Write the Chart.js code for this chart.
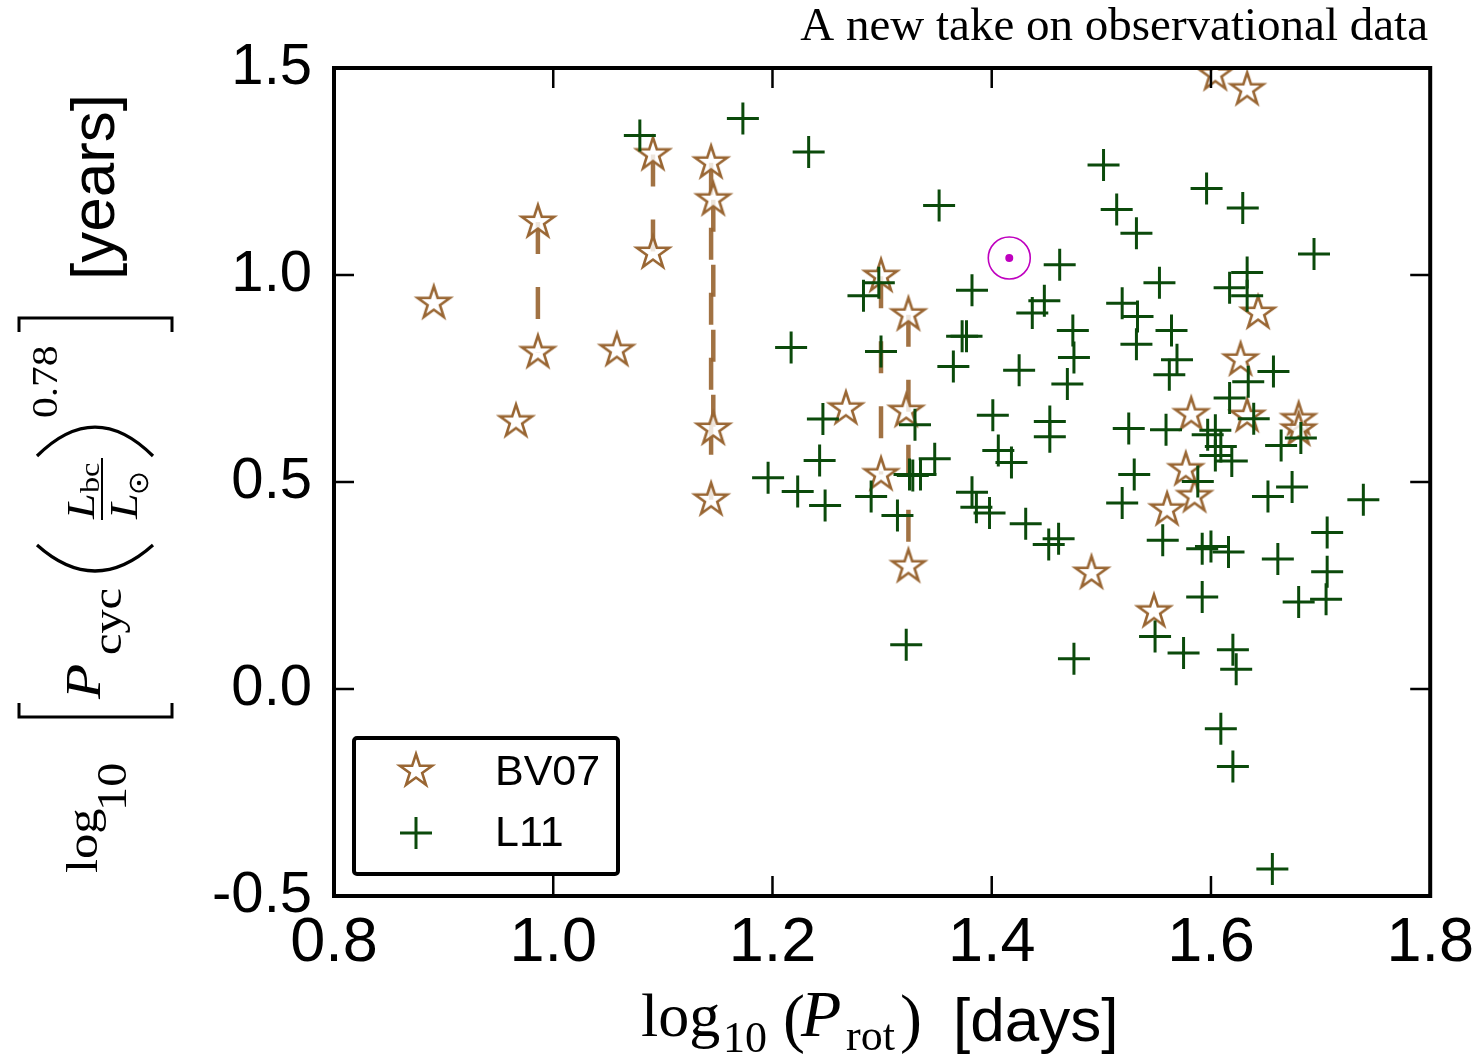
<!DOCTYPE html>
<html>
<head>
<meta charset="utf-8">
<script src="https://cdn.jsdelivr.net/npm/chart.js@4/dist/chart.umd.min.js"></script>
<style>
  html, body { margin: 0; padding: 0; background: #fff; }
  #wrap { width: 1484px; height: 1058px; }
</style>
</head>
<body>
<div id="wrap"><canvas id="c" width="1484" height="1058"></canvas></div>
<script>
// ---- data: log10(P_rot) vs log10[P_cyc (L_bc/L_sun)^0.78] ----
const bv07X = [0.891, 0.986, 0.986, 1.058, 0.966, 1.091, 1.091, 1.144, 1.146, 1.146, 1.144,
               1.299, 1.324, 1.267, 1.322, 1.299, 1.324,
               1.604, 1.633, 1.643, 1.627, 1.582, 1.633, 1.680, 1.680, 1.577, 1.585, 1.560, 1.491, 1.548];
const bv07Y = [0.932, 1.128, 0.813, 0.818, 0.646, 1.291, 1.053, 1.271, 1.182, 0.628, 0.457,
               0.997, 0.904, 0.677, 0.671, 0.518, 0.296,
               1.484, 1.448, 0.908, 0.795, 0.663, 0.659, 0.651, 0.626, 0.530, 0.465, 0.433, 0.280, 0.187];
// stars with more than one cycle: pairs of indices joined by a dashed line (upper first)
const bv07Links = [[1, 2], [5, 6], [7, 10], [8, 9], [11, 15], [12, 16]];

const l11X = [1.079, 1.173, 1.233, 1.352, 1.462, 1.382, 1.448, 1.437, 1.474, 1.283, 1.297, 1.373,
              1.377, 1.217, 1.299, 1.365, 1.425, 1.469, 1.475, 1.246, 1.330, 1.401, 1.453, 1.453,
              1.243, 1.348, 1.406, 1.418, 1.196, 1.223, 1.325, 1.328, 1.335, 1.248, 1.290, 1.382,
              1.386, 1.398, 1.314, 1.431, 1.461, 1.452, 1.322, 1.475, 1.502, 1.514, 1.532, 1.596,
              1.629, 1.694, 1.553, 1.633, 1.617, 1.633, 1.519, 1.533, 1.532, 1.564, 1.569, 1.562,
              1.657, 1.634, 1.617, 1.639, 1.525, 1.559, 1.604, 1.597, 1.609, 1.604, 1.619, 1.664,
              1.682, 1.530, 1.588, 1.519, 1.652, 1.674, 1.739, 1.556, 1.592, 1.600, 1.616, 1.661,
              1.706, 1.706, 1.680, 1.705, 1.592, 1.549, 1.575, 1.620, 1.623, 1.609, 1.620, 1.656];
const l11Y = [1.337, 1.378, 1.297, 1.168, 1.025, 0.963, 0.938, 0.908, 0.866, 0.950, 0.981, 0.852,
              0.852, 0.825, 0.815, 0.779, 0.770, 0.737, 0.801, 0.652, 0.638, 0.661, 0.646, 0.609,
              0.552, 0.556, 0.576, 0.547, 0.510, 0.477, 0.518, 0.516, 0.518, 0.443, 0.465, 0.475,
              0.439, 0.425, 0.419, 0.399, 0.363, 0.349, 0.107, 0.073, 1.266, 1.158, 1.101, 1.209,
              1.162, 1.051, 0.981, 1.006, 0.969, 0.950, 0.932, 0.900, 0.833, 0.866, 0.795, 0.759,
              0.767, 0.742, 0.703, 0.653, 0.629, 0.626, 0.625, 0.614, 0.586, 0.564, 0.551, 0.588,
              0.606, 0.518, 0.501, 0.449, 0.465, 0.488, 0.457, 0.359, 0.339, 0.344, 0.331, 0.314,
              0.378, 0.283, 0.210, 0.217, 0.222, 0.127, 0.087, 0.095, 0.048, -0.096, -0.187, -0.435];

const sunX = [1.416];
const sunY = [1.041];

const xTickValues = [0.8, 1.0, 1.2, 1.4, 1.6, 1.8];
const yTickValues = [-0.5, 0.0, 0.5, 1.0, 1.5];

const legendLabels = ['BV07', 'L11'];
const titleText = 'A new take on observational data';

// ---- styles ----
const STAR_EDGE = '#996633';
const STAR_FILL = 'rgba(255,255,255,0.82)';
const LINK_COLOR = 'rgba(153,102,51,0.92)';
const CROSS_COLOR = '#0b4a0b';
const SUN_COLOR = '#bf00bf';
const SANS = '"Liberation Sans", Arial, sans-serif';
const SERIF = '"Liberation Serif", "Times New Roman", serif';

// five-pointed open star used as a point style
function makeStar(r, lw) {
  const size = Math.ceil(2 * r + 2 * lw + 4);
  const cv = document.createElement('canvas');
  cv.width = size; cv.height = size;
  const g = cv.getContext('2d');
  const cx = size / 2, cy = size / 2;
  g.beginPath();
  for (let i = 0; i < 10; i++) {
    const a = -Math.PI / 2 + i * Math.PI / 5;
    const rad = (i % 2) ? r * 0.382 : r;
    const px = cx + rad * Math.cos(a), py = cy + rad * Math.sin(a);
    if (i === 0) g.moveTo(px, py); else g.lineTo(px, py);
  }
  g.closePath();
  g.fillStyle = STAR_FILL;
  g.fill();
  g.lineWidth = lw;
  g.lineJoin = 'miter';
  g.strokeStyle = STAR_EDGE;
  g.stroke();
  return cv;
}
const starImg = makeStar(17, 2.6);

const pts = (xs, ys) => xs.map((x, i) => ({ x: x, y: ys[i] }));

const linkSets = bv07Links.map(([a, b]) => ({
  label: 'link',
  data: [{ x: bv07X[a], y: bv07Y[a] }, { x: bv07X[b], y: bv07Y[b] }],
  showLine: true,
  borderColor: LINK_COLOR,
  borderWidth: 4.5,
  borderDash: [32, 33],
  pointRadius: 0,
  order: 3
}));

const datasets = [
  ...linkSets,
  {
    label: legendLabels[0],
    data: pts(bv07X, bv07Y),
    pointStyle: starImg,
    pointRadius: 17,
    clip: 0,
    order: 2
  },
  {
    label: legendLabels[1],
    data: pts(l11X, l11Y),
    pointStyle: 'cross',
    pointRadius: 16,
    borderWidth: 3,
    borderColor: CROSS_COLOR,
    order: 1
  },
  {
    label: 'sun ring',
    data: pts(sunX, sunY),
    pointStyle: 'circle',
    pointRadius: 21,
    borderWidth: 1.6,
    borderColor: SUN_COLOR,
    backgroundColor: 'rgba(0,0,0,0)',
    order: 0
  },
  {
    label: 'sun dot',
    data: pts(sunX, sunY),
    pointStyle: 'circle',
    pointRadius: 4,
    borderWidth: 0,
    backgroundColor: SUN_COLOR,
    order: 0
  }
];

// rotated text piece for the y-axis label: starts at screen y0 and runs upward
function rotText(ctx, text, font, y0, baseX, stretch) {
  ctx.save();
  ctx.translate(baseX, y0);
  ctx.rotate(-Math.PI / 2);
  ctx.scale(stretch, 1);
  ctx.font = font;
  ctx.textBaseline = 'alphabetic';
  ctx.textAlign = 'left';
  ctx.fillText(text, 0, 0);
  ctx.restore();
}

const decorations = {
  id: 'decorations',
  afterDatasetsDraw(chart) {
    const ctx = chart.ctx;
    const a = chart.chartArea;
    const xs = chart.scales.x, ys = chart.scales.y;
    ctx.save();
    ctx.fillStyle = '#000';
    ctx.strokeStyle = '#000';

    // inward ticks on all four sides
    ctx.lineWidth = 2.5;
    ctx.beginPath();
    xTickValues.forEach(v => {
      const px = xs.getPixelForValue(v);
      ctx.moveTo(px, a.bottom); ctx.lineTo(px, a.bottom - 20);
      ctx.moveTo(px, a.top); ctx.lineTo(px, a.top + 20);
    });
    yTickValues.forEach(v => {
      const py = ys.getPixelForValue(v);
      ctx.moveTo(a.left, py); ctx.lineTo(a.left + 20, py);
      ctx.moveTo(a.right, py); ctx.lineTo(a.right - 20, py);
    });
    ctx.stroke();

    // axes frame
    ctx.lineWidth = 4;
    ctx.strokeRect(a.left, a.top, a.right - a.left, a.bottom - a.top);

    // legend box
    ctx.lineWidth = 4;
    ctx.beginPath();
    ctx.roundRect(354, 738, 264, 136, 3);
    ctx.fillStyle = '#fff';
    ctx.fill();
    ctx.stroke();
    ctx.drawImage(starImg, 416 - starImg.width / 2, 771 - starImg.height / 2);
    ctx.strokeStyle = CROSS_COLOR;
    ctx.lineWidth = 3;
    ctx.beginPath();
    ctx.moveTo(400, 833); ctx.lineTo(432, 833);
    ctx.moveTo(416, 817); ctx.lineTo(416, 849);
    ctx.stroke();
    ctx.fillStyle = '#000';
    ctx.strokeStyle = '#000';
    ctx.font = '43px ' + SANS;
    ctx.textBaseline = 'middle';
    ctx.textAlign = 'left';
    ctx.fillText(legendLabels[0], 495, 773);
    ctx.fillText(legendLabels[1], 495, 834);

    // title, upper right
    ctx.textBaseline = 'alphabetic';
    ctx.textAlign = 'right';
    let tsize = 42;
    ctx.font = tsize + 'px ' + SERIF;
    const tw = ctx.measureText(titleText).width;
    tsize = tsize * 628 / tw;
    ctx.font = tsize.toFixed(1) + 'px ' + SERIF;
    ctx.fillText(titleText, 1428, 40);

    // x-axis label: log10 (P_rot) [days]
    ctx.textAlign = 'left';
    ctx.font = '62px ' + SERIF;
    ctx.fillText('log', 641, 1036);
    ctx.font = '44px ' + SERIF;
    ctx.fillText('10', 723, 1052);
    ctx.font = '66px ' + SERIF;
    ctx.fillText('(', 783, 1040);
    ctx.font = 'italic 66px ' + SERIF;
    ctx.fillText('P', 801, 1036);
    ctx.font = '44px ' + SERIF;
    ctx.fillText('rot', 846, 1050);
    ctx.font = '66px ' + SERIF;
    ctx.fillText(')', 900, 1040);
    ctx.font = '62px ' + SANS;
    ctx.fillText('[days]', 953, 1041);

    // y-axis label: log10 [ P_cyc (L_bc / L_sun)^0.78 ] [years]
    const s = 1.15;
    rotText(ctx, 'log', '44px ' + SERIF, 873, 97, s);
    rotText(ctx, '10', '42px ' + SERIF, 811, 126, s);
    rotText(ctx, 'P', 'italic 50px ' + SERIF, 699, 100, s);
    rotText(ctx, 'cyc', '42px ' + SERIF, 655, 121, s);
    rotText(ctx, 'L', 'italic 40px ' + SERIF, 519, 94, s);
    rotText(ctx, 'bc', '28px ' + SERIF, 493, 99, s);
    rotText(ctx, 'L', 'italic 40px ' + SERIF, 519, 137, s);
    rotText(ctx, '0.78', '36px ' + SERIF, 418, 57, s);
    rotText(ctx, '[years]', '62px ' + SANS, 280, 114, 1);

    ctx.lineWidth = 3;
    ctx.lineCap = 'butt';
    ctx.beginPath();
    // big square brackets
    ctx.moveTo(19, 703); ctx.lineTo(19, 717); ctx.lineTo(172, 717); ctx.lineTo(172, 703);
    ctx.moveTo(19, 332); ctx.lineTo(19, 318); ctx.lineTo(172, 318); ctx.lineTo(172, 332);
    ctx.stroke();
    // big round parentheses
    ctx.lineWidth = 3.2;
    ctx.beginPath();
    ctx.moveTo(37, 545); ctx.quadraticCurveTo(95, 597, 153, 545);
    ctx.moveTo(37, 456); ctx.quadraticCurveTo(95, 398, 153, 456);
    ctx.stroke();
    // fraction bar
    ctx.lineWidth = 2;
    ctx.beginPath();
    ctx.moveTo(102, 520); ctx.lineTo(102, 458);
    ctx.stroke();
    // solar symbol subscript
    ctx.lineWidth = 1.8;
    ctx.beginPath();
    ctx.arc(139, 483, 8.5, 0, Math.PI * 2);
    ctx.stroke();
    ctx.beginPath();
    ctx.arc(139, 483, 2.2, 0, Math.PI * 2);
    ctx.fill();

    ctx.restore();
  }
};

new Chart(document.getElementById('c'), {
  type: 'scatter',
  data: { datasets: datasets },
  options: {
    responsive: false,
    devicePixelRatio: 1,
    animation: false,
    layout: { padding: { left: 0, top: 68, right: 53, bottom: 0 } },
    plugins: { legend: { display: false }, tooltip: { enabled: false } },
    scales: {
      x: {
        type: 'linear',
        min: 0.8, max: 1.8,
        afterFit: (sc) => { sc.height = 162; },
        afterBuildTicks: (sc) => { sc.ticks = xTickValues.map(v => ({ value: v })); },
        grid: { display: false, drawTicks: false },
        border: { display: false },
        ticks: {
          font: { family: SANS, size: 63 },
          color: '#000',
          padding: 10,
          maxRotation: 0,
          autoSkip: false,
          callback: (v) => Number(v).toFixed(1)
        }
      },
      y: {
        type: 'linear',
        min: -0.5, max: 1.5,
        afterFit: (sc) => { sc.width = 334; },
        afterBuildTicks: (sc) => { sc.ticks = yTickValues.map(v => ({ value: v })); },
        grid: { display: false, drawTicks: false },
        border: { display: false },
        ticks: {
          font: { family: SANS, size: 58 },
          color: '#000',
          padding: 22,
          autoSkip: false,
          callback: (v) => Number(v).toFixed(1)
        }
      }
    }
  },
  plugins: [decorations]
});
</script>
</body>
</html>
